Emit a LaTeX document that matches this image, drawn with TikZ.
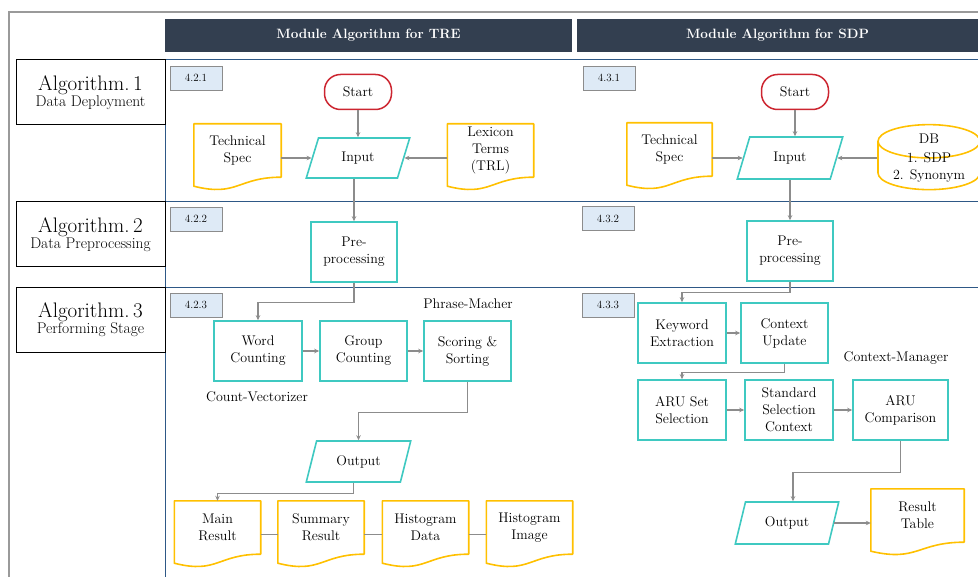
\documentclass[tikz,border=0pt]{standalone}
\usepackage{xcolor}
\usepackage{tikz}
\usetikzlibrary{arrows.meta,shapes.geometric}

\definecolor{hdrnavy}{HTML}{333F50}
\definecolor{laneblue}{HTML}{2E5886}
\definecolor{flowteal}{HTML}{3FC9C1}
\definecolor{docgold}{HTML}{FFC000}
\definecolor{startred}{HTML}{CC2530}
\definecolor{tagfill}{HTML}{DEEAF6}
\definecolor{linkgray}{HTML}{8C8C8C}
\definecolor{framegray}{HTML}{9A9A9A}

\tikzset{
  txt/.style={font=\fontsize{14}{17}\selectfont, align=center, text=black},
  hdrbar/.style={fill=hdrnavy, text=white, minimum height=33pt, font=\fontsize{13.5}{15}\selectfont\bfseries},
  algbox/.style={draw=black, line width=1pt, minimum width=149pt, minimum height=65pt, align=center},
  tagbox/.style={draw=linkgray, fill=tagfill, line width=0.8pt, minimum width=52pt, minimum height=24pt, font=\fontsize{11}{12}\selectfont},
  startbox/.style={txt, draw=startred, line width=1.5pt, rounded corners=16pt, minimum width=67pt, minimum height=35pt},
  iobox/.style={txt, draw=flowteal, line width=1.6pt, trapezium, trapezium left angle=72, trapezium right angle=108, trapezium stretches=true, minimum width=104pt, minimum height=40pt},
  procbox/.style={txt, draw=flowteal, line width=1.6pt, minimum width=87pt, minimum height=60pt, inner sep=2pt},
  docbox/.style={txt, minimum height=53pt, inner sep=1pt},
  dbbox/.style={txt, draw=docgold, line width=1.6pt, cylinder, shape border rotate=90, aspect=0.45, minimum width=102pt, minimum height=65pt, inner sep=1pt},
  docline/.style={draw=docgold, line width=1.6pt, line join=round},
  arr/.style={draw=linkgray, line width=1.2pt, -{Stealth[length=5pt,width=4.5pt]}},
  conn/.style={draw=linkgray, line width=1pt},
  lane/.style={draw=laneblue, line width=1pt},
}

\begin{document}
\begin{tikzpicture}[x=1pt, y=-1pt]
    \useasboundingbox (0,0) rectangle (978,577);
    \draw[framegray, line width=1.2pt] (9,577) -- (9,12) -- (978,12);
    \draw[lane] (165,577) -- (165,60) -- (978,60);
    \draw[lane] (165,202) -- (978,202);
    \draw[lane] (165,288) -- (978,288);

    \node[hdrbar, minimum width=407pt] (hTRE) at (368.5,35.5) {Module Algorithm for TRE};
    \node[hdrbar, minimum width=401pt] (hSDP) at (777.5,35.5) {Module Algorithm for SDP};

    \node[algbox] (alg1) at (90.5,92.5) {%
      {\fontsize{21}{22}\selectfont Algorithm.\,1}\\{\fontsize{15.5}{17}\selectfont Data Deployment}};
    \node[algbox] (alg2) at (90.5,234.5) {%
      {\fontsize{21}{22}\selectfont Algorithm.\,2}\\{\fontsize{15.5}{17}\selectfont Data Preprocessing}};
    \node[algbox] (alg3) at (90.5,320) {%
      {\fontsize{21}{22}\selectfont Algorithm.\,3}\\{\fontsize{15.5}{17}\selectfont Performing Stage}};

    \node[tagbox] (t421) at (196,78) {4.2.1};
    \node[tagbox] (t422) at (196,219) {4.2.2};
    \node[tagbox] (t423) at (196,305) {4.2.3};
    \node[tagbox] (t431) at (609,78) {4.3.1};
    \node[tagbox] (t432) at (608,218.5) {4.3.2};
    \node[tagbox] (t433) at (608,305) {4.3.3};

    \node[startbox] (start1) at (358,92) {Start};
    \node[docbox, minimum width=87pt] (tspec1) at (237.5,150.5) {Technical\\Spec};
    \node[iobox] (in1) at (358,158) {Input};
    \node[docbox, minimum width=86pt] (lex1) at (490.5,150.5) {Lexicon\\Terms\\(TRL)};
    \node[procbox, minimum width=86pt] (pre1) at (354,252) {Pre-\\processing};
    \node[procbox, minimum width=88pt] (wc) at (258,351) {Word\\Counting};
    \node[procbox] (gc) at (363.5,351) {Group\\Counting};
    \node[procbox] (sc) at (467.5,351) {Scoring \&\\Sorting};
    \node[txt] (lblPhrase) at (468,304) {Phrase-Macher};
    \node[txt] (lblCount) at (257,397) {Count-Vectorizer};
    \node[iobox, minimum width=105pt, minimum height=41pt] (out1) at (358.5,461.5) {Output};
    \node[docbox, minimum width=86pt] (mr) at (217.5,527.5) {Main\\Result};
    \node[docbox, minimum width=86pt] (sr) at (321,527.5) {Summary\\Result};
    \node[docbox, minimum width=86pt] (hd) at (425.5,527.5) {Histogram\\Data};
    \node[docbox, minimum width=86pt] (hi) at (529.5,527.5) {Histogram\\Image};

    \node[startbox] (start2) at (795,92) {Start};
    \node[docbox, minimum width=85pt] (tspec2) at (669.5,149.5) {Technical\\Spec};
    \node[iobox, minimum width=106pt, minimum height=42pt] (in2) at (790,158) {Input};
    \node[dbbox] (db) at (929,167.5) {%
      \smash{\raisebox{6pt}{\begin{tabular}{@{}c@{}}DB\\[2pt]1. SDP\\2. Synonym\end{tabular}}}};
    \node[procbox, minimum width=86pt] (pre2) at (790,251) {Pre-\\processing};
    \node[procbox, minimum width=88pt] (kw) at (682,333) {Keyword\\Extraction};
    \node[procbox] (cu) at (784.5,333) {Context\\Update};
    \node[txt] (lblCtx) at (896,358) {Context-Manager};
    \node[procbox, minimum width=88pt] (aru) at (682,410) {ARU Set\\Selection};
    \node[procbox, minimum width=88pt] (std) at (789,410) {Standard\\Selection\\Context};
    \node[procbox, minimum width=95pt] (cmp) at (900.5,410) {ARU\\Comparison};
    \node[iobox, minimum width=104pt, minimum height=42pt] (out2) at (787,523) {Output};
    \node[docbox, minimum width=93pt] (rtab) at (917.5,515.5) {Result\\Table};

    \foreach \d in {tspec1,lex1,mr,sr,hd,hi,tspec2,rtab}
      \draw[docline] (\d.north west) -- (\d.north east) -- (\d.south east)
        .. controls (\d.south) and ([yshift=-20pt]\d.south) .. ([yshift=-9pt]\d.south west) -- cycle;

    \draw[arr] (start1) -- (in1);
    \draw[arr] (tspec1.east |- in1.west) -- (in1.west);
    \draw[arr] (lex1.west |- in1.east) -- (in1.east);
    \draw[arr] (in1.south -| pre1.north) -- (pre1.north);
    \draw[arr] (pre1.south) -- ++(0,20) -| (wc.north);
    \draw[arr] (wc) -- (gc);
    \draw[arr] (gc) -- (sc);
    \draw[arr] (sc.south) -- ++(0,31) -| (out1.north);
    \draw[arr] ([xshift=-5pt]out1.south) -- ++(0,11) -| (mr.north);
    \draw[conn] ([yshift=-7pt]mr.east) -- ([yshift=-7pt]sr.west);
    \draw[conn] ([yshift=-7pt]sr.east) -- ([yshift=-7pt]hd.west);
    \draw[conn] ([yshift=-7pt]hd.east) -- ([yshift=-7pt]hi.west);

    \draw[arr] (start2.south) -- (start2.south |- in2.north);
    \draw[arr] (tspec2.east |- in2.west) -- (in2.west);
    \draw[arr] (db.west |- in2.east) -- (in2.east);
    \draw[arr] (in2.south -| pre2.north) -- (pre2.north);
    \draw[arr] (pre2.south) -- ++(0,11) -| (kw.north);
    \draw[arr] (kw) -- (cu);
    \draw[arr] (cu.south) -- ++(0,9) -| (aru.north);
    \draw[arr] (aru) -- (std);
    \draw[arr] (std) -- (cmp);
    \draw[arr] (cmp.south) -- ++(0,32) -| ([xshift=6pt]out2.north);
    \draw[arr] (out2.east) -- (out2.east -| rtab.west);
\end{tikzpicture}
\end{document}
